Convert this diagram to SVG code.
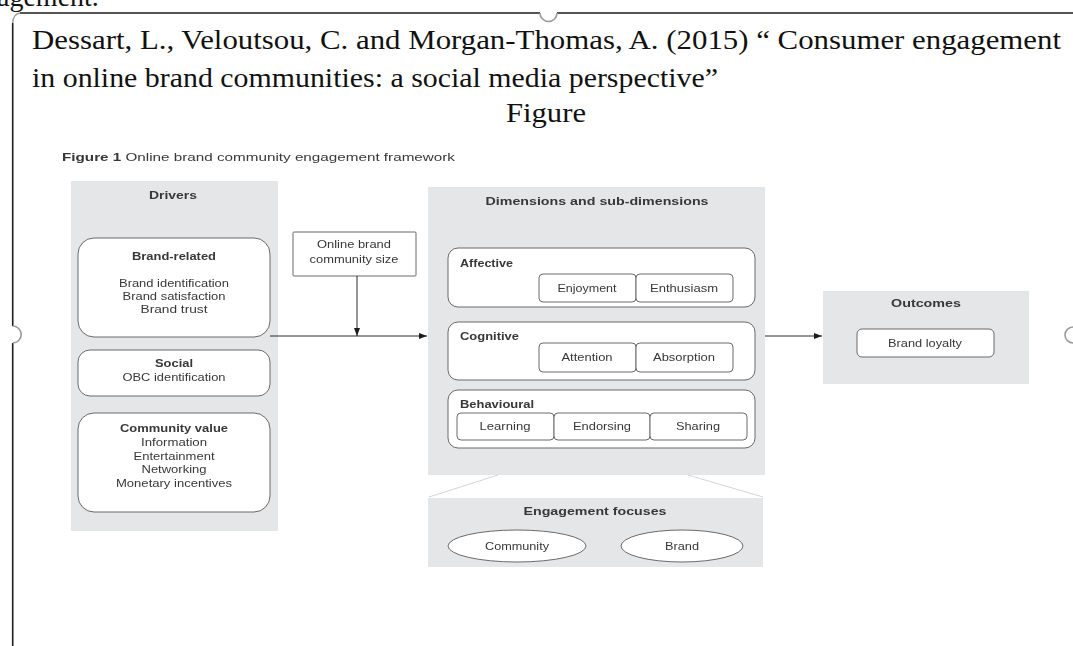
<svg xmlns="http://www.w3.org/2000/svg" width="1073" height="646" viewBox="0 0 1073 646">
  <defs>
    <style>
      .serif { font-family: "Liberation Serif", "Times New Roman", serif; font-size: 28px; fill: #111; }
      .fig { font-family: "Liberation Sans", Arial, sans-serif; font-size: 11px; fill: #383838; }
      .b { font-weight: bold; }
      .panel { fill: #e5e6e8; stroke: none; }
      .box { fill: #fff; stroke: #6a6a6a; stroke-width: 1; }
      .wire { stroke: #2a2a2a; stroke-width: 1; fill: none; }
      .frame { stroke: #1e1e1e; stroke-width: 1.6; fill: none; }
      .handle { stroke: #9a9a9a; stroke-width: 1.6; fill: #fff; }
      .fan { stroke: #c9c9c9; stroke-width: 0.8; fill: none; }
    </style>
    <marker id="arrow" viewBox="0 0 8 6" refX="8" refY="3" markerWidth="8" markerHeight="6" markerUnits="userSpaceOnUse" orient="auto">
      <path d="M0,0 L8,3 L0,6 Z" fill="#1e1e1e"/>
    </marker>
    <filter id="soft" x="-2%" y="-2%" width="104%" height="104%">
      <feGaussianBlur stdDeviation="0.35"/>
    </filter>
  </defs>

  <rect width="1073" height="646" fill="#fff"/>

  <!-- page text above the frame, running off the top edge -->
  <text class="serif" x="-3" y="6">agement.</text>

  <!-- text frame with its resize handles -->
  <g id="frame">
    <path class="frame" d="M20,13 L540,13 M557,13 L1073,13 M12.7,23 L12.7,326 M12.7,343 L12.7,646"/>
    <path d="M12.7,23 Q13,14 20,13" stroke="#a0a0a0" stroke-width="1.4" fill="none"/>
    <path class="handle" d="M540,13 A8.5,8.5 0 0 0 557,13"/>
    <path class="handle" d="M12.7,326 A8.5,8.5 0 0 1 12.7,343"/>
    <path class="handle" d="M1073,327 A8,8 0 0 0 1073,343"/>
  </g>

  <!-- reference heading -->
  <g id="heading">
    <text class="serif" x="32" y="49" textLength="1029" lengthAdjust="spacingAndGlyphs">Dessart, L., Veloutsou, C. and Morgan-Thomas, A. (2015) “ Consumer engagement</text>
    <text class="serif" x="32" y="87" textLength="686" lengthAdjust="spacingAndGlyphs">in online brand communities: a social media perspective”</text>
    <text class="serif" x="506" y="122" textLength="80" lengthAdjust="spacingAndGlyphs">Figure</text>
  </g>

  <g id="figure" filter="url(#soft)">
    <text class="fig" x="62" y="161" textLength="393" lengthAdjust="spacingAndGlyphs"><tspan class="b">Figure 1</tspan> Online brand community engagement framework</text>

    <!-- Drivers -->
    <g id="drivers">
      <rect class="panel" x="71" y="181" width="207" height="350"/>
      <text class="fig b" x="173" y="199" text-anchor="middle" textLength="48" lengthAdjust="spacingAndGlyphs">Drivers</text>
    </g>
    <g id="brand-related">
      <rect class="box" x="78" y="238" width="192" height="99" rx="16"/>
      <text class="fig b" x="174" y="260" text-anchor="middle" textLength="84" lengthAdjust="spacingAndGlyphs">Brand-related</text>
      <text class="fig" x="174" y="287" text-anchor="middle" textLength="110" lengthAdjust="spacingAndGlyphs">Brand identification</text>
      <text class="fig" x="174" y="300" text-anchor="middle" textLength="103" lengthAdjust="spacingAndGlyphs">Brand satisfaction</text>
      <text class="fig" x="174" y="313" text-anchor="middle" textLength="67" lengthAdjust="spacingAndGlyphs">Brand trust</text>
    </g>
    <g id="social">
      <rect class="box" x="78" y="350" width="192" height="46" rx="12"/>
      <text class="fig b" x="174" y="367" text-anchor="middle" textLength="38" lengthAdjust="spacingAndGlyphs">Social</text>
      <text class="fig" x="174" y="381" text-anchor="middle" textLength="103" lengthAdjust="spacingAndGlyphs">OBC identification</text>
    </g>
    <g id="community-value">
      <rect class="box" x="78" y="413" width="192" height="99" rx="16"/>
      <text class="fig b" x="174" y="432" text-anchor="middle" textLength="108" lengthAdjust="spacingAndGlyphs">Community value</text>
      <text class="fig" x="174" y="446" text-anchor="middle" textLength="66" lengthAdjust="spacingAndGlyphs">Information</text>
      <text class="fig" x="174" y="460" text-anchor="middle" textLength="81" lengthAdjust="spacingAndGlyphs">Entertainment</text>
      <text class="fig" x="174" y="473" text-anchor="middle" textLength="65" lengthAdjust="spacingAndGlyphs">Networking</text>
      <text class="fig" x="174" y="487" text-anchor="middle" textLength="116" lengthAdjust="spacingAndGlyphs">Monetary incentives</text>
    </g>

    <!-- Moderator -->
    <g id="community-size">
      <rect class="box" x="293" y="232" width="123" height="44" rx="1"/>
      <text class="fig" x="354" y="248" text-anchor="middle" textLength="74" lengthAdjust="spacingAndGlyphs">Online brand</text>
      <text class="fig" x="354" y="263" text-anchor="middle" textLength="89" lengthAdjust="spacingAndGlyphs">community size</text>
    </g>

    <!-- Dimensions -->
    <g id="dimensions">
      <rect class="panel" x="428" y="187" width="337" height="288"/>
      <text class="fig b" x="597" y="205" text-anchor="middle" textLength="223" lengthAdjust="spacingAndGlyphs">Dimensions and sub-dimensions</text>
    </g>
    <g id="affective">
      <rect class="box" x="448" y="248" width="307" height="59" rx="10"/>
      <text class="fig b" x="460" y="267" textLength="53" lengthAdjust="spacingAndGlyphs">Affective</text>
      <rect class="box" x="539" y="274" width="97" height="28" rx="4"/>
      <rect class="box" x="636" y="274" width="97" height="28" rx="4"/>
      <text class="fig" x="587" y="292" text-anchor="middle" textLength="59" lengthAdjust="spacingAndGlyphs">Enjoyment</text>
      <text class="fig" x="684" y="292" text-anchor="middle" textLength="68" lengthAdjust="spacingAndGlyphs">Enthusiasm</text>
    </g>
    <g id="cognitive">
      <rect class="box" x="448" y="322" width="307" height="58" rx="10"/>
      <text class="fig b" x="460" y="340" textLength="59" lengthAdjust="spacingAndGlyphs">Cognitive</text>
      <rect class="box" x="539" y="343" width="97" height="29" rx="4"/>
      <rect class="box" x="636" y="343" width="97" height="29" rx="4"/>
      <text class="fig" x="587" y="361" text-anchor="middle" textLength="51" lengthAdjust="spacingAndGlyphs">Attention</text>
      <text class="fig" x="684" y="361" text-anchor="middle" textLength="62" lengthAdjust="spacingAndGlyphs">Absorption</text>
    </g>
    <g id="behavioural">
      <rect class="box" x="448" y="390" width="307" height="58" rx="10"/>
      <text class="fig b" x="460" y="408" textLength="74" lengthAdjust="spacingAndGlyphs">Behavioural</text>
      <rect class="box" x="457" y="413" width="97" height="27" rx="4"/>
      <rect class="box" x="554" y="413" width="96" height="27" rx="4"/>
      <rect class="box" x="650" y="413" width="97" height="27" rx="4"/>
      <text class="fig" x="505" y="430" text-anchor="middle" textLength="51" lengthAdjust="spacingAndGlyphs">Learning</text>
      <text class="fig" x="602" y="430" text-anchor="middle" textLength="58" lengthAdjust="spacingAndGlyphs">Endorsing</text>
      <text class="fig" x="698" y="430" text-anchor="middle" textLength="44" lengthAdjust="spacingAndGlyphs">Sharing</text>
    </g>

    <!-- Engagement focuses -->
    <g id="focuses">
      <path class="fan" d="M498,475 L429,497 M688,475 L763,497"/>
      <rect class="panel" x="428" y="498" width="335" height="69"/>
      <text class="fig b" x="595" y="515" text-anchor="middle" textLength="143" lengthAdjust="spacingAndGlyphs">Engagement focuses</text>
      <ellipse class="box" cx="517" cy="546" rx="69" ry="16"/>
      <ellipse class="box" cx="682" cy="546" rx="61" ry="16"/>
      <text class="fig" x="517" y="550" text-anchor="middle" textLength="64" lengthAdjust="spacingAndGlyphs">Community</text>
      <text class="fig" x="682" y="550" text-anchor="middle" textLength="34" lengthAdjust="spacingAndGlyphs">Brand</text>
    </g>

    <!-- Outcomes -->
    <g id="outcomes">
      <rect class="panel" x="823" y="291" width="206" height="93"/>
      <text class="fig b" x="926" y="307" text-anchor="middle" textLength="70" lengthAdjust="spacingAndGlyphs">Outcomes</text>
      <rect class="box" x="857" y="329" width="137" height="28" rx="5"/>
      <text class="fig" x="925" y="347" text-anchor="middle" textLength="74" lengthAdjust="spacingAndGlyphs">Brand loyalty</text>
    </g>

    <!-- Connectors -->
    <g id="connectors">
      <line class="wire" x1="270" y1="336" x2="427" y2="336" marker-end="url(#arrow)"/>
      <line class="wire" x1="357" y1="276" x2="357" y2="336" marker-end="url(#arrow)"/>
      <line class="wire" x1="765" y1="336" x2="822" y2="336" marker-end="url(#arrow)"/>
    </g>
  </g>
</svg>
